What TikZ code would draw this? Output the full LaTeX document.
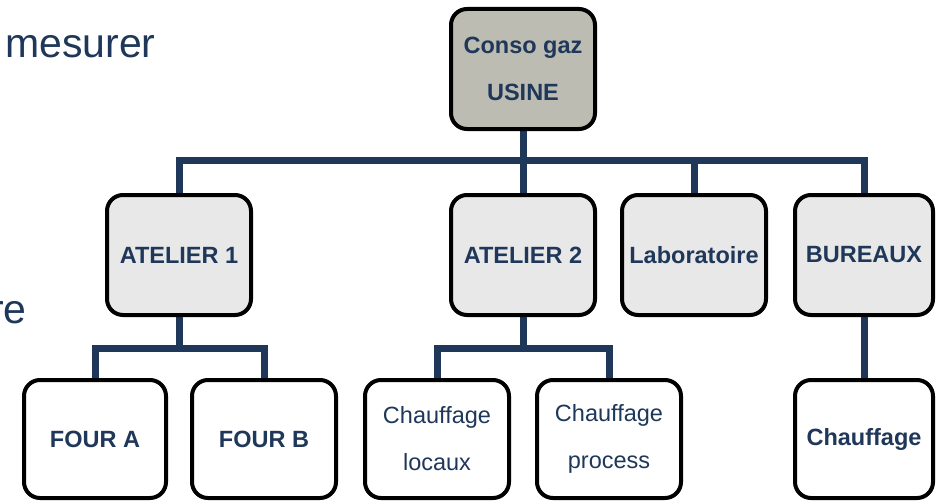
\documentclass[tikz,border=0pt]{standalone}
\usepackage{fontspec}
\setmainfont{Liberation Sans}
\usepackage{tikz}
\usetikzlibrary{calc}
\usetikzlibrary{backgrounds}

\definecolor{navy}{RGB}{31,56,90}
\definecolor{usinegray}{RGB}{189,188,179}
\definecolor{ateliergray}{RGB}{232,232,232}

\begin{document}
\begin{tikzpicture}[x=1pt, y=-1pt,
 box/.style={draw=black, line width=4pt, rounded corners=16pt, text=navy,
  align=center, inner sep=0pt, minimum width=144pt, minimum height=120pt,
  font=\fontsize{23.5}{47}\selectfont},
 bold/.style={font=\fontsize{23.5}{47}\selectfont\bfseries},
 bus/.style={draw=navy, line width=7pt},
 bigtext/.style={text=navy, inner sep=0pt, font=\fontsize{41}{41}\selectfont}]
 \useasboundingbox (0,0) rectangle (936,503);
 \node[bigtext, anchor=base west] (mesurer) at (5,57) {mesurer};
 \node[bigtext, anchor=base east] (re) at (27,323) {re};
 % niveau usine
 \node[box, bold, fill=usinegray] (usine) at (523,69) {Conso gaz\\USINE};
 % ateliers
 \node[box, bold, fill=ateliergray] (at1) at (179,255) {ATELIER 1};
 \node[box, bold, fill=ateliergray] (at2) at (523,255) {ATELIER 2};
 \node[box, bold, fill=ateliergray] (lab) at (694,255) {Laboratoire};
 \node[box, bold, fill=ateliergray, minimum width=138pt] (bur) at (864,255) {BUREAUX};
 % postes
 \node[box, bold, fill=white, minimum width=142pt, minimum height=118pt] (fourA) at (95,439) {FOUR A};
 \node[box, bold, fill=white, minimum height=118pt] (fourB) at (264,439) {FOUR B};
 \node[box, fill=white, minimum height=118pt] (chlocaux) at (437,439) {Chauffage\\locaux};
 \node[box, fill=white, minimum height=118pt] (chprocess) at (609,439) {Chauffage\\process};
 \node[box, bold, fill=white, minimum width=138pt, minimum height=118pt] (chbur) at (864,439) {Chauffage};
 \coordinate (bar) at (523,160);
 \coordinate (bar1) at (179,348);
 \coordinate (bar2) at (523,348);
 \begin{scope}[on background layer]
  \draw[bus] (usine.south) -- (at2.north);
  \draw[bus] (at1.north) |- (bar) -| (bur.north);
  \draw[bus] (bar -| lab) -- (lab.north);
  \draw[bus] (at1.south) -- (bar1);
  \draw[bus] (fourA.north) |- (bar1) -| (fourB.north);
  \draw[bus] (at2.south) -- (bar2);
  \draw[bus] (chlocaux.north) |- (bar2) -| (chprocess.north);
  \draw[bus] (bur.south) -- (chbur.north);
 \end{scope}
\end{tikzpicture}
\end{document}
